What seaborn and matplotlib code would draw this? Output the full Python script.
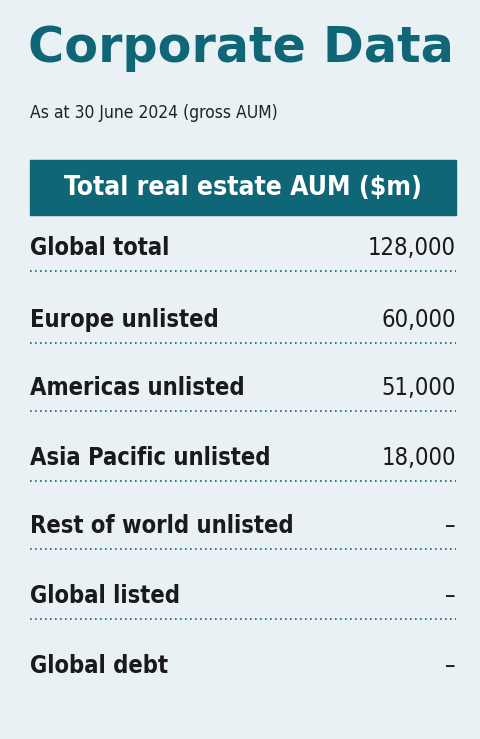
import matplotlib
matplotlib.use("Agg")
import matplotlib.pyplot as plt
import seaborn as sns

# table content
title = "Corporate Data"
subtitle = "As at 30 June 2024 (gross AUM)"
header = "Total real estate AUM ($m)"
categories = ["Global total", "Europe unlisted", "Americas unlisted",
              "Asia Pacific unlisted", "Rest of world unlisted",
              "Global listed", "Global debt"]
values = ["128,000", "60,000", "51,000", "18,000", "–", "–", "–"]

TEAL = "#0f6677"
BG = "#e9f1f4"

sns.set_theme(style="white")
plt.rcParams['font.family'] = ['DejaVu Sans']
COND = dict(fontstretch="condensed")

fig = plt.figure(figsize=(4.8, 7.39), dpi=100, facecolor=BG)
ax = fig.add_axes([0, 0, 1, 1])
ax.set_facecolor(BG)
ax.set_xlim(0, 480)
ax.set_ylim(739, 0)
ax.axis("off")

ax.text(28, 48, title, fontsize=35.5, fontweight="bold", color=TEAL,
        va="center", ha="left")
ax.text(30, 113, subtitle, fontsize=12.5, color="#222222", va="center", **COND)

ax.add_patch(plt.Rectangle((30, 160), 426, 55, color=TEAL))
ax.text(243, 188, header, fontsize=19, fontweight="bold", color="white",
        ha="center", va="center", **COND)

row_y = [248, 320, 388, 458, 526, 596, 666]
for i, (cat, val) in enumerate(zip(categories, values)):
    y = row_y[i]
    ax.text(30, y, cat, fontsize=17, fontweight="bold", color="#1a1a1a",
            va="center", **COND)
    ax.text(456, y, val, fontsize=17, color="#1a1a1a", va="center",
            ha="right", **COND)
    if i < len(categories) - 1:
        ax.plot([30, 456], [y + 23, y + 23], color=TEAL, lw=1.2,
                linestyle=(0, (1, 2)))

fig.savefig("out.png", dpi=100, facecolor=BG)
